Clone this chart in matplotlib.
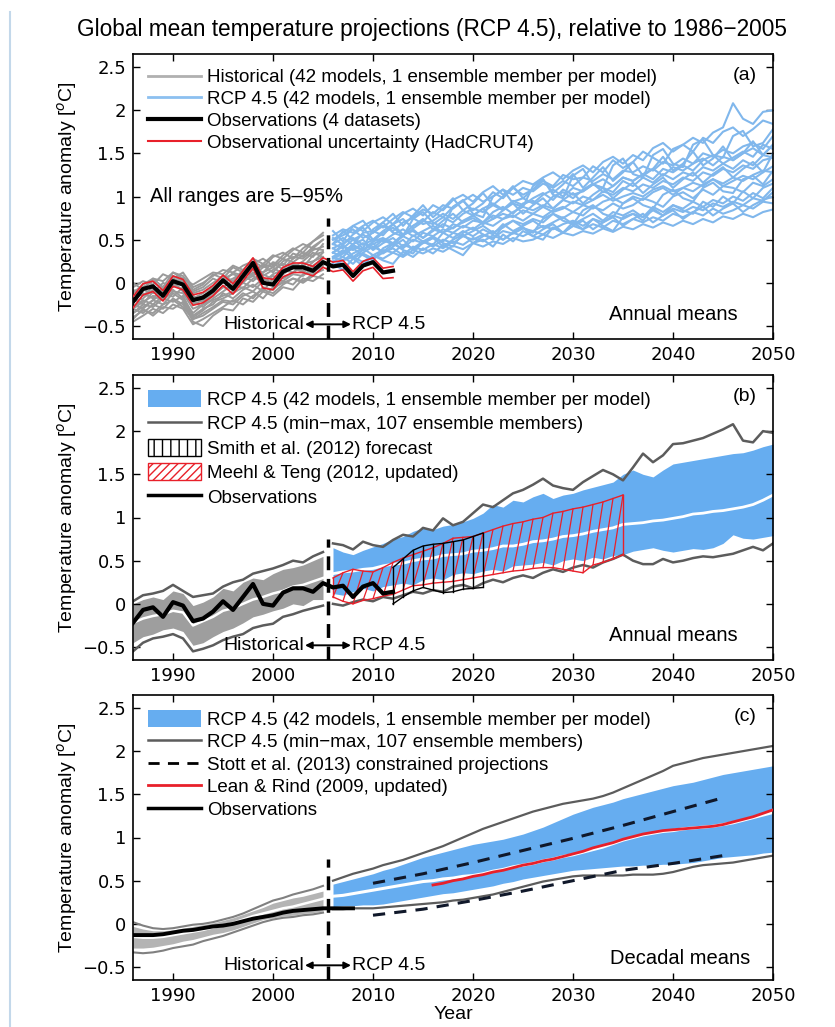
import numpy as np
import matplotlib
matplotlib.use('Agg')
import matplotlib.pyplot as plt
from matplotlib.lines import Line2D
from matplotlib.patches import Patch

plt.rcParams['font.family'] = ['Liberation Sans', 'DejaVu Sans']
plt.rcParams['mathtext.fontset'] = 'custom'
plt.rcParams['mathtext.rm'] = 'Liberation Sans'

# ---- years ----
yrs_hist = np.arange(1986, 2006)
yrs_rcp = np.arange(2006, 2051)
yrs_obs = np.arange(1986, 2013)
yrs_obs_dec = np.arange(1986, 2009)
yrs_smith = np.arange(2012, 2022)
yrs_meehl = np.arange(2006, 2036)
yrs_lean = np.arange(2016, 2051)
yrs_stott = [2010, 2015, 2020, 2025, 2030, 2035, 2040, 2045]

xticks = [1990, 2000, 2010, 2020, 2030, 2040, 2050]
yticks = [-0.5, 0, 0.5, 1, 1.5, 2, 2.5]
ytick_labels = ['\u22120.5', '0', '0.5', '1', '1.5', '2', '2.5']

# ---- panel (a): individual models ----
hist_models = [
    [-0.30, -0.22, -0.15, -0.20, -0.10, -0.12, -0.30, -0.25, -0.15, -0.05, -0.08, 0.02, 0.08, 0.00, 0.10, 0.15, 0.12, 0.22, 0.25, 0.30],
    [-0.10, -0.05, 0.02, -0.08, 0.05, 0.00, -0.18, -0.12, -0.05, 0.05, 0.10, 0.06, 0.15, 0.20, 0.12, 0.25, 0.30, 0.28, 0.38, 0.42],
    [-0.40, -0.32, -0.35, -0.25, -0.20, -0.28, -0.42, -0.38, -0.30, -0.22, -0.25, -0.15, -0.10, -0.18, -0.05, 0.00, 0.05, 0.02, 0.10, 0.15],
    [-0.20, -0.12, -0.18, -0.05, 0.02, -0.10, -0.25, -0.20, -0.08, 0.00, 0.05, 0.12, 0.08, 0.18, 0.22, 0.16, 0.28, 0.35, 0.30, 0.45],
    [-0.05, 0.02, -0.02, 0.10, 0.05, 0.12, -0.05, 0.00, 0.08, 0.15, 0.12, 0.20, 0.25, 0.18, 0.30, 0.35, 0.28, 0.40, 0.48, 0.55],
    [-0.35, -0.25, -0.28, -0.18, -0.22, -0.15, -0.38, -0.30, -0.25, -0.12, -0.18, -0.08, -0.02, -0.10, 0.05, 0.02, 0.10, 0.08, 0.18, 0.20],
    [-0.25, -0.30, -0.20, -0.12, -0.16, -0.05, -0.22, -0.28, -0.18, -0.10, -0.02, -0.06, 0.05, 0.10, 0.04, 0.15, 0.20, 0.14, 0.24, 0.35],
    [-0.15, -0.08, -0.12, 0.00, -0.05, 0.05, -0.12, -0.08, 0.00, 0.08, 0.02, 0.15, 0.10, 0.22, 0.18, 0.28, 0.24, 0.32, 0.40, 0.38],
    [-0.45, -0.38, -0.30, -0.35, -0.25, -0.30, -0.48, -0.42, -0.35, -0.28, -0.20, -0.25, -0.15, -0.08, -0.12, -0.02, 0.05, 0.00, 0.08, 0.05],
    [-0.08, -0.15, -0.05, -0.10, 0.08, 0.02, -0.10, -0.05, 0.05, 0.00, 0.12, 0.08, 0.18, 0.12, 0.24, 0.20, 0.34, 0.30, 0.42, 0.50],
    [-0.28, -0.20, -0.25, -0.15, -0.08, -0.18, -0.35, -0.25, -0.20, -0.15, -0.10, 0.00, -0.05, 0.05, 0.00, 0.10, 0.18, 0.12, 0.20, 0.28],
    [-0.18, -0.25, -0.10, -0.15, -0.02, -0.08, -0.20, -0.15, -0.10, 0.02, -0.04, 0.08, 0.02, 0.12, 0.18, 0.10, 0.22, 0.18, 0.32, 0.36],
    [-0.35, -0.28, -0.20, -0.25, -0.12, -0.20, -0.40, -0.32, -0.22, -0.18, -0.12, -0.05, -0.10, 0.02, 0.08, 0.05, 0.12, 0.20, 0.15, 0.25],
    [-0.12, -0.02, 0.05, -0.05, 0.12, 0.08, -0.08, -0.02, 0.10, 0.05, 0.18, 0.12, 0.22, 0.28, 0.20, 0.32, 0.40, 0.35, 0.48, 0.58],
    [-0.42, -0.30, -0.38, -0.28, -0.30, -0.22, -0.45, -0.50, -0.38, -0.30, -0.32, -0.18, -0.22, -0.10, -0.15, -0.05, -0.08, 0.05, 0.02, 0.10],
    [-0.22, -0.18, -0.08, -0.12, -0.02, 0.02, -0.15, -0.22, -0.12, -0.05, 0.02, 0.00, 0.12, 0.08, 0.15, 0.22, 0.18, 0.25, 0.35, 0.30],
    [0.00, -0.08, 0.05, 0.02, 0.12, 0.05, -0.02, 0.05, 0.12, 0.10, 0.20, 0.15, 0.28, 0.22, 0.32, 0.28, 0.38, 0.45, 0.40, 0.50],
    [-0.30, -0.35, -0.25, -0.30, -0.18, -0.25, -0.42, -0.35, -0.28, -0.20, -0.22, -0.12, -0.18, -0.05, -0.08, 0.02, -0.02, 0.10, 0.12, 0.20],
]

rcp_models = [
    [0.45, 0.52, 0.44, 0.58, 0.60, 0.55, 0.68, 0.74, 0.63, 0.71, 0.82, 0.76, 0.88, 0.95, 0.84,
     0.92, 1.05, 0.98, 1.10, 1.02, 1.08, 1.18, 1.12, 1.25, 1.20, 1.22, 1.35, 1.28, 1.42, 1.33,
     1.40, 1.52, 1.45, 1.38, 1.55, 1.60, 1.52, 1.68, 1.62, 1.75, 1.80, 1.70, 1.78, 1.88, 1.84],
    [0.35, 0.30, 0.42, 0.38, 0.45, 0.50, 0.44, 0.55, 0.62, 0.52, 0.60, 0.68, 0.63, 0.72, 0.78,
     0.70, 0.82, 0.88, 0.80, 0.92, 0.95, 0.88, 1.00, 1.05, 0.98, 1.08, 1.15, 1.05, 1.12, 1.22,
     1.18, 1.26, 1.20, 1.32, 1.28, 1.36, 1.30, 1.42, 1.48, 1.38, 1.45, 1.52, 1.46, 1.60, 1.55],
    [0.30, 0.38, 0.28, 0.35, 0.42, 0.36, 0.45, 0.40, 0.50, 0.46, 0.52, 0.48, 0.58, 0.54, 0.60,
     0.66, 0.58, 0.64, 0.72, 0.68, 0.74, 0.70, 0.80, 0.75, 0.82, 0.78, 0.88, 0.84, 0.92, 0.86,
     0.90, 0.98, 0.94, 0.88, 1.00, 1.05, 0.98, 1.08, 1.02, 1.12, 1.10, 1.05, 1.16, 1.12, 1.20],
    [0.50, 0.55, 0.62, 0.52, 0.58, 0.66, 0.60, 0.70, 0.75, 0.68, 0.72, 0.80, 0.74, 0.84, 0.78,
     0.86, 0.92, 0.85, 0.95, 0.90, 0.98, 1.04, 0.96, 1.08, 1.02, 1.06, 1.14, 1.10, 1.05, 1.18,
     1.12, 1.22, 1.16, 1.26, 1.20, 1.28, 1.24, 1.34, 1.30, 1.38, 1.32, 1.42, 1.36, 1.48, 1.45],
    [0.25, 0.30, 0.22, 0.34, 0.28, 0.35, 0.40, 0.32, 0.42, 0.38, 0.45, 0.40, 0.48, 0.44, 0.52,
     0.48, 0.55, 0.50, 0.58, 0.54, 0.60, 0.56, 0.64, 0.58, 0.66, 0.62, 0.68, 0.64, 0.72, 0.68,
     0.74, 0.70, 0.76, 0.72, 0.80, 0.76, 0.82, 0.78, 0.86, 0.80, 0.84, 0.90, 0.86, 0.94, 0.92],
    [0.40, 0.46, 0.52, 0.44, 0.50, 0.48, 0.56, 0.62, 0.54, 0.60, 0.66, 0.58, 0.64, 0.70, 0.75,
     0.68, 0.74, 0.80, 0.76, 0.84, 0.80, 0.88, 0.82, 0.86, 0.94, 0.90, 0.96, 1.02, 0.95, 1.00,
     1.04, 1.00, 1.08, 1.12, 1.06, 1.10, 1.16, 1.12, 1.20, 1.15, 1.22, 1.18, 1.25, 1.30, 1.28],
    [0.55, 0.62, 0.58, 0.66, 0.72, 0.64, 0.74, 0.82, 0.76, 0.85, 0.80, 0.90, 0.86, 0.95, 1.02,
     0.94, 1.00, 1.08, 1.02, 1.10, 1.06, 1.15, 1.10, 1.18, 1.12, 1.22, 1.18, 1.26, 1.20, 1.30,
     1.28, 1.35, 1.30, 1.40, 1.36, 1.44, 1.38, 1.50, 1.46, 1.54, 1.50, 1.58, 1.62, 1.55, 1.70],
    [0.30, 0.26, 0.34, 0.40, 0.32, 0.38, 0.35, 0.44, 0.40, 0.48, 0.42, 0.50, 0.46, 0.54, 0.50,
     0.56, 0.52, 0.60, 0.57, 0.63, 0.60, 0.66, 0.62, 0.68, 0.72, 0.66, 0.74, 0.70, 0.78, 0.74,
     0.80, 0.76, 0.84, 0.78, 0.86, 0.82, 0.88, 0.84, 0.92, 0.88, 0.94, 0.90, 0.98, 0.95, 1.05],
    [0.45, 0.40, 0.50, 0.56, 0.48, 0.58, 0.64, 0.55, 0.66, 0.72, 0.68, 0.76, 0.70, 0.80, 0.86,
     0.82, 0.90, 0.84, 0.94, 0.98, 0.92, 1.02, 1.08, 1.00, 1.10, 1.06, 1.14, 1.20, 1.12, 1.22,
     1.18, 1.26, 1.32, 1.24, 1.34, 1.30, 1.38, 1.44, 1.36, 1.46, 1.42, 1.50, 1.56, 1.48, 1.60],
    [0.35, 0.42, 0.38, 0.46, 0.40, 0.50, 0.45, 0.54, 0.48, 0.58, 0.54, 0.62, 0.58, 0.66, 0.62,
     0.70, 0.66, 0.74, 0.78, 0.72, 0.80, 0.76, 0.84, 0.88, 0.82, 0.90, 0.86, 0.94, 0.98, 0.92,
     1.00, 0.96, 1.05, 1.10, 1.02, 1.10, 1.06, 1.14, 1.20, 1.12, 1.18, 1.24, 1.20, 1.28, 1.35],
    [0.20, 0.26, 0.30, 0.24, 0.32, 0.28, 0.35, 0.30, 0.38, 0.34, 0.40, 0.36, 0.43, 0.39, 0.46,
     0.42, 0.48, 0.45, 0.52, 0.48, 0.50, 0.56, 0.52, 0.58, 0.55, 0.60, 0.57, 0.63, 0.59, 0.65,
     0.62, 0.68, 0.64, 0.70, 0.66, 0.72, 0.68, 0.74, 0.70, 0.77, 0.74, 0.80, 0.76, 0.82, 0.85],
    [0.50, 0.58, 0.66, 0.60, 0.70, 0.76, 0.68, 0.80, 0.86, 0.78, 0.90, 0.84, 0.96, 1.02, 0.94,
     1.05, 1.12, 1.02, 1.10, 1.18, 1.14, 1.22, 1.28, 1.20, 1.30, 1.36, 1.28, 1.40, 1.46, 1.38,
     1.48, 1.42, 1.56, 1.62, 1.52, 1.60, 1.68, 1.62, 1.74, 1.80, 2.08, 1.90, 1.84, 1.98, 2.00],
    [0.40, 0.34, 0.45, 0.50, 0.38, 0.46, 0.52, 0.42, 0.55, 0.48, 0.44, 0.58, 0.52, 0.60, 0.54,
     0.62, 0.56, 0.68, 0.60, 0.66, 0.72, 0.64, 0.70, 0.76, 0.68, 0.74, 0.80, 0.72, 0.82, 0.78,
     0.84, 0.76, 0.88, 0.82, 0.90, 0.86, 0.94, 0.88, 0.96, 0.92, 1.00, 0.95, 1.04, 0.98, 1.10],
    [0.30, 0.36, 0.44, 0.38, 0.48, 0.52, 0.46, 0.56, 0.60, 0.52, 0.62, 0.58, 0.68, 0.64, 0.72,
     0.70, 0.78, 0.74, 0.82, 0.88, 0.84, 0.90, 0.86, 0.96, 0.92, 1.00, 0.96, 1.06, 1.02, 1.10,
     1.06, 1.14, 1.10, 1.18, 1.14, 1.22, 1.18, 1.28, 1.24, 1.32, 1.28, 1.36, 1.32, 1.42, 1.45],
    [0.60, 0.48, 0.66, 0.72, 0.58, 0.70, 0.80, 0.66, 0.78, 0.90, 0.76, 0.86, 0.98, 0.84, 0.92,
     1.04, 0.90, 1.00, 1.12, 0.98, 1.08, 1.20, 1.04, 1.14, 1.26, 1.10, 1.22, 1.34, 1.18, 1.28,
     1.40, 1.24, 1.32, 1.46, 1.30, 1.38, 1.52, 1.36, 1.44, 1.58, 1.42, 1.50, 1.64, 1.48, 1.60],
    [0.22, 0.15, 0.28, 0.20, 0.32, 0.26, 0.22, 0.36, 0.30, 0.40, 0.34, 0.44, 0.38, 0.32, 0.46,
     0.50, 0.42, 0.56, 0.48, 0.60, 0.54, 0.50, 0.64, 0.58, 0.70, 0.62, 0.74, 0.66, 0.60, 0.76,
     0.80, 0.72, 0.86, 0.78, 0.90, 0.84, 0.80, 0.94, 0.88, 1.00, 0.92, 1.06, 0.98, 1.10, 1.15],
    [0.45, 0.60, 0.50, 0.40, 0.62, 0.70, 0.58, 0.54, 0.74, 0.82, 0.70, 0.64, 0.88, 0.96, 0.80,
     0.76, 1.00, 1.08, 0.92, 0.88, 1.12, 1.20, 1.02, 0.98, 1.24, 1.32, 1.14, 1.10, 1.36, 1.44,
     1.26, 1.22, 1.48, 1.55, 1.38, 1.34, 1.60, 1.66, 1.48, 1.45, 1.70, 1.76, 1.58, 1.62, 1.78],
    [0.35, 0.44, 0.30, 0.38, 0.46, 0.34, 0.42, 0.50, 0.38, 0.46, 0.52, 0.42, 0.50, 0.56, 0.46,
     0.54, 0.60, 0.50, 0.58, 0.64, 0.54, 0.62, 0.68, 0.58, 0.66, 0.72, 0.62, 0.70, 0.76, 0.66,
     0.74, 0.80, 0.70, 0.78, 0.84, 0.74, 0.82, 0.88, 0.78, 0.86, 0.92, 0.82, 0.90, 0.96, 1.00],
    [0.52, 0.44, 0.56, 0.64, 0.50, 0.60, 0.68, 0.56, 0.66, 0.74, 0.62, 0.72, 0.80, 0.70, 0.78,
     0.86, 0.74, 0.84, 0.92, 0.80, 0.90, 0.98, 0.86, 0.96, 1.04, 0.92, 1.02, 1.10, 0.98, 1.08,
     1.16, 1.04, 1.14, 1.22, 1.10, 1.20, 1.28, 1.16, 1.26, 1.34, 1.22, 1.32, 1.40, 1.28, 1.50],
    [0.28, 0.34, 0.40, 0.32, 0.26, 0.40, 0.46, 0.38, 0.34, 0.48, 0.54, 0.46, 0.42, 0.58, 0.64,
     0.56, 0.50, 0.66, 0.72, 0.64, 0.58, 0.74, 0.80, 0.72, 0.68, 0.84, 0.90, 0.80, 0.76, 0.92,
     0.98, 0.90, 0.86, 1.02, 1.08, 0.98, 0.94, 1.10, 1.16, 1.06, 1.04, 1.20, 1.24, 1.14, 1.30],
]

# observations (annual) and HadCRUT4 uncertainty
obs = [-0.22, -0.07, -0.04, -0.15, 0.02, -0.02, -0.20, -0.17, -0.09, 0.03, -0.07, 0.08, 0.23, 0.00,
       -0.02, 0.13, 0.18, 0.18, 0.14, 0.24, 0.19, 0.21, 0.08, 0.20, 0.24, 0.12, 0.14]
obs_hi = [-0.16, -0.01, 0.02, -0.09, 0.08, 0.04, -0.14, -0.11, -0.03, 0.09, -0.01, 0.14, 0.29, 0.06,
          0.04, 0.18, 0.23, 0.23, 0.19, 0.29, 0.24, 0.26, 0.13, 0.25, 0.29, 0.17, 0.19]
obs_lo = [-0.29, -0.14, -0.10, -0.21, -0.04, -0.08, -0.26, -0.23, -0.15, -0.03, -0.13, 0.02, 0.17, -0.06,
          -0.08, 0.07, 0.12, 0.12, 0.08, 0.18, 0.13, 0.15, 0.02, 0.14, 0.18, 0.05, 0.06]

# ---- panel (b): annual ranges ----
hist_p95 = [0.00, 0.05, 0.08, 0.05, 0.15, 0.12, -0.02, 0.02, 0.08, 0.18, 0.15, 0.25, 0.30, 0.28, 0.35, 0.40, 0.42, 0.45, 0.50, 0.55]
hist_p5 = [-0.45, -0.38, -0.35, -0.30, -0.28, -0.32, -0.48, -0.45, -0.38, -0.32, -0.28, -0.22, -0.15, -0.12, -0.08, -0.05, 0.00, -0.02, 0.05, 0.05]
hist_max = [0.03, 0.10, 0.12, 0.15, 0.22, 0.15, 0.08, 0.10, 0.12, 0.20, 0.25, 0.28, 0.35, 0.38, 0.41, 0.45, 0.50, 0.48, 0.55, 0.60]
hist_min = [-0.55, -0.45, -0.40, -0.38, -0.35, -0.40, -0.55, -0.52, -0.48, -0.42, -0.38, -0.35, -0.28, -0.25, -0.23, -0.15, -0.12, -0.08, -0.05, -0.02]
hist_med = [-0.22, -0.17, -0.14, -0.12, -0.08, -0.10, -0.25, -0.20, -0.15, -0.08, -0.05, 0.00, 0.05, 0.08, 0.12, 0.15, 0.20, 0.22, 0.26, 0.30]

rcp_p95 = [0.65, 0.60, 0.57, 0.62, 0.66, 0.70, 0.75, 0.78, 0.84, 0.88, 0.86, 0.90, 0.92, 0.95, 0.99,
           1.05, 1.15, 1.12, 1.20, 1.18, 1.24, 1.28, 1.22, 1.26, 1.28, 1.32, 1.35, 1.38, 1.41, 1.50,
           1.55, 1.50, 1.47, 1.55, 1.62, 1.64, 1.66, 1.68, 1.70, 1.72, 1.74, 1.75, 1.78, 1.82, 1.85]
rcp_p5 = [0.12, 0.10, 0.14, 0.18, 0.15, 0.20, 0.22, 0.24, 0.22, 0.28, 0.30, 0.28, 0.34, 0.36, 0.35,
          0.38, 0.40, 0.38, 0.44, 0.45, 0.46, 0.48, 0.45, 0.50, 0.52, 0.50, 0.54, 0.52, 0.56, 0.57,
          0.61, 0.63, 0.65, 0.62, 0.60, 0.62, 0.64, 0.63, 0.65, 0.70, 0.80, 0.76, 0.75, 0.77, 0.79]
rcp_max = [0.70, 0.68, 0.63, 0.72, 0.68, 0.66, 0.74, 0.80, 0.78, 0.88, 0.85, 0.99, 0.91, 0.95, 1.05,
           1.15, 1.12, 1.20, 1.28, 1.32, 1.38, 1.45, 1.37, 1.34, 1.32, 1.41, 1.48, 1.55, 1.50, 1.43,
           1.58, 1.74, 1.64, 1.72, 1.85, 1.86, 1.89, 1.92, 1.97, 2.02, 2.08, 1.89, 1.87, 2.00, 1.98]
rcp_min = [0.00, -0.02, 0.02, 0.05, 0.03, 0.08, 0.06, 0.10, 0.14, 0.12, 0.16, 0.14, 0.20, 0.22, 0.18,
           0.24, 0.28, 0.25, 0.30, 0.33, 0.30, 0.36, 0.40, 0.37, 0.42, 0.45, 0.42, 0.48, 0.52, 0.57,
           0.50, 0.46, 0.46, 0.52, 0.48, 0.50, 0.53, 0.55, 0.54, 0.56, 0.58, 0.62, 0.66, 0.62, 0.70]
rcp_med = [0.35, 0.37, 0.38, 0.40, 0.41, 0.44, 0.46, 0.47, 0.50, 0.52, 0.53, 0.56, 0.57, 0.58, 0.61,
           0.62, 0.64, 0.67, 0.67, 0.69, 0.72, 0.73, 0.75, 0.78, 0.79, 0.81, 0.84, 0.86, 0.88, 0.92,
           0.93, 0.94, 0.96, 0.97, 0.99, 1.01, 1.04, 1.05, 1.07, 1.08, 1.10, 1.12, 1.15, 1.20, 1.26]

smith_hi = [0.42, 0.52, 0.62, 0.67, 0.69, 0.70, 0.72, 0.74, 0.78, 0.82]
smith_lo = [0.00, 0.08, 0.15, 0.19, 0.16, 0.13, 0.14, 0.17, 0.18, 0.19]

meehl_hi = [0.30, 0.36, 0.40, 0.38, 0.37, 0.42, 0.48, 0.53, 0.57, 0.61, 0.65, 0.70, 0.76, 0.77, 0.78,
            0.82, 0.86, 0.90, 0.93, 0.95, 0.98, 1.00, 1.05, 1.07, 1.10, 1.12, 1.15, 1.18, 1.22, 1.26]
meehl_lo = [0.08, 0.03, 0.00, 0.04, 0.06, 0.09, 0.11, 0.16, 0.21, 0.22, 0.24, 0.25, 0.26, 0.28, 0.30,
            0.32, 0.34, 0.36, 0.38, 0.39, 0.41, 0.42, 0.42, 0.40, 0.38, 0.36, 0.45, 0.48, 0.52, 0.57]

# ---- panel (c): decadal means ----
hist_c_max = [0.02, -0.02, -0.05, -0.06, -0.05, -0.03, -0.01, 0.00, 0.02, 0.05, 0.08, 0.12, 0.17, 0.22, 0.27, 0.30, 0.34, 0.37, 0.40, 0.44]
hist_c_p95 = [-0.03, -0.06, -0.08, -0.08, -0.07, -0.05, -0.03, -0.01, 0.01, 0.04, 0.07, 0.11, 0.15, 0.19, 0.24, 0.27, 0.30, 0.32, 0.35, 0.38]
hist_c_p5 = [-0.28, -0.28, -0.27, -0.25, -0.23, -0.20, -0.18, -0.15, -0.12, -0.10, -0.07, -0.03, 0.01, 0.05, 0.07, 0.09, 0.10, 0.12, 0.13, 0.15]
hist_c_min = [-0.33, -0.34, -0.33, -0.31, -0.28, -0.26, -0.24, -0.20, -0.17, -0.14, -0.10, -0.06, -0.02, 0.02, 0.05, 0.07, 0.08, 0.10, 0.11, 0.13]
hist_c_med = [-0.15, -0.16, -0.16, -0.15, -0.13, -0.11, -0.09, -0.07, -0.04, -0.02, 0.01, 0.05, 0.09, 0.12, 0.15, 0.18, 0.20, 0.23, 0.26, 0.29]
obs_dec = [-0.13, -0.13, -0.13, -0.12, -0.10, -0.08, -0.07, -0.05, -0.03, -0.02, 0.00, 0.03, 0.06, 0.08,
           0.10, 0.13, 0.15, 0.16, 0.17, 0.18, 0.18, 0.18, 0.18]

rcp_c_max = [0.50, 0.54, 0.58, 0.61, 0.64, 0.68, 0.71, 0.74, 0.78, 0.82, 0.86, 0.90, 0.95, 1.00, 1.05,
             1.10, 1.14, 1.18, 1.22, 1.26, 1.30, 1.33, 1.36, 1.39, 1.41, 1.43, 1.45, 1.48, 1.52, 1.57,
             1.62, 1.67, 1.72, 1.77, 1.83, 1.86, 1.89, 1.92, 1.94, 1.96, 1.98, 2.00, 2.02, 2.04, 2.06]
rcp_c_p95 = [0.46, 0.49, 0.52, 0.55, 0.58, 0.62, 0.65, 0.69, 0.73, 0.77, 0.80, 0.83, 0.86, 0.89, 0.92,
             0.94, 0.96, 0.98, 1.01, 1.04, 1.08, 1.12, 1.17, 1.22, 1.27, 1.31, 1.35, 1.38, 1.41, 1.45,
             1.48, 1.51, 1.54, 1.57, 1.60, 1.62, 1.64, 1.67, 1.70, 1.73, 1.75, 1.77, 1.79, 1.81, 1.83]
rcp_c_p5 = [0.20, 0.21, 0.21, 0.22, 0.22, 0.23, 0.25, 0.27, 0.29, 0.31, 0.33, 0.35, 0.36, 0.38, 0.40,
            0.42, 0.44, 0.47, 0.49, 0.52, 0.54, 0.56, 0.58, 0.60, 0.62, 0.63, 0.64, 0.65, 0.66, 0.67,
            0.67, 0.68, 0.68, 0.69, 0.69, 0.70, 0.71, 0.73, 0.75, 0.77, 0.78, 0.79, 0.80, 0.82, 0.83]
rcp_c_min = [0.17, 0.17, 0.18, 0.18, 0.18, 0.19, 0.20, 0.21, 0.22, 0.23, 0.24, 0.25, 0.27, 0.28, 0.30,
             0.32, 0.34, 0.37, 0.40, 0.43, 0.46, 0.49, 0.51, 0.53, 0.55, 0.56, 0.56, 0.56, 0.56, 0.56,
             0.57, 0.57, 0.57, 0.58, 0.60, 0.63, 0.66, 0.68, 0.69, 0.70, 0.71, 0.73, 0.75, 0.77, 0.79]
rcp_c_med = [0.32, 0.33, 0.35, 0.37, 0.39, 0.41, 0.43, 0.45, 0.47, 0.49, 0.50, 0.52, 0.53, 0.55, 0.56,
             0.58, 0.61, 0.63, 0.66, 0.68, 0.70, 0.73, 0.75, 0.78, 0.80, 0.83, 0.86, 0.89, 0.93, 0.97,
             1.00, 1.03, 1.05, 1.07, 1.08, 1.10, 1.11, 1.12, 1.13, 1.15, 1.17, 1.20, 1.23, 1.26, 1.29]

stott_hi = [0.47, 0.58, 0.71, 0.85, 0.99, 1.14, 1.30, 1.46]
stott_lo = [0.10, 0.17, 0.27, 0.38, 0.50, 0.62, 0.70, 0.79]

lean_rind = [0.45, 0.47, 0.50, 0.52, 0.55, 0.57, 0.60, 0.62, 0.65, 0.68, 0.70, 0.73, 0.75, 0.78, 0.81,
             0.84, 0.88, 0.91, 0.94, 0.98, 1.01, 1.04, 1.06, 1.08, 1.09, 1.10, 1.11, 1.12, 1.13, 1.15,
             1.18, 1.21, 1.24, 1.28, 1.32]

# ---- colours ----
blue_fill = '#66adf0'
blue_line = '#80b7ec'
grey_line = '#9a9a9a'
minmax_col = '#5c5c5c'
red = '#e8202a'

fig = plt.figure(figsize=(8.35, 10.27), dpi=100)
W, H = 835.0, 1027.0
left, right = 133 / W, 773 / W
tops = [54, 375, 695]
ax_h = 285


def make_ax(top):
    ax = fig.add_axes([left, 1 - (top + ax_h) / H, right - left, ax_h / H])
    ax.set_xlim(1986, 2050)
    ax.set_ylim(-0.65, 2.65)
    ax.set_xticks(xticks)
    ax.set_yticks(yticks)
    ax.set_yticklabels(ytick_labels)
    ax.tick_params(direction='in', top=True, right=True, length=5, width=1, labelsize=13, pad=5)
    for lbl in ax.get_xticklabels() + ax.get_yticklabels():
        lbl.set_fontfamily('DejaVu Sans')
    for s in ax.spines.values():
        s.set_linewidth(1.2)
    ax.set_ylabel('Temperature anomaly [$^{o}$C]', fontsize=14)
    ax.yaxis.set_label_coords(-0.085, 0.5)
    return ax


def hist_rcp_marker(ax):
    ax.plot([2005.5, 2005.5], [-0.65, 0.75], color='k', lw=2.5, dashes=(4, 2.5), zorder=6)
    ax.text(2003.1, -0.48, 'Historical', ha='right', va='center', fontsize=14)
    ax.annotate('', xy=(2003.2, -0.48), xytext=(2007.8, -0.48),
                arrowprops=dict(arrowstyle='<|-|>', color='k', lw=1.4, mutation_scale=10,
                                shrinkA=0, shrinkB=0), zorder=7)
    ax.text(2007.9, -0.48, 'RCP 4.5', ha='left', va='center', fontsize=14)


# ---- (a) ----
ax = make_ax(tops[0])
for m in hist_models:
    ax.plot(yrs_hist, m, color=grey_line, lw=1.4, zorder=2)
for m in rcp_models:
    ax.plot(yrs_rcp, m, color=blue_line, lw=1.5, zorder=2)
ax.plot(yrs_obs, obs_hi, color=red, lw=1.2, zorder=4)
ax.plot(yrs_obs, obs_lo, color=red, lw=1.2, zorder=4)
ax.plot(yrs_obs, obs, color='k', lw=3, zorder=5)
hist_rcp_marker(ax)
ax.text(1987.7, 1.0, 'All ranges are 5\u201395%', fontsize=14.5, va='center')
ax.text(0.956, 0.925, '(a)', transform=ax.transAxes, fontsize=14, ha='center', va='center')
ax.text(0.945, 0.085, 'Annual means', transform=ax.transAxes, fontsize=14.5, ha='right', va='center')
handles = [Line2D([], [], color='#b0b0b0', lw=2),
           Line2D([], [], color='#8cc0f0', lw=2),
           Line2D([], [], color='k', lw=3),
           Line2D([], [], color=red, lw=1.5)]
labels = ['Historical (42 models, 1 ensemble member per model)',
          'RCP 4.5 (42 models, 1 ensemble member per model)',
          'Observations (4 datasets)',
          'Observational uncertainty (HadCRUT4)']
ax.legend(handles, labels, loc='upper left', frameon=False, fontsize=13.5, handlelength=2.8,
          handletextpad=0.35, labelspacing=0.25, borderaxespad=0.3, borderpad=0.5)

# ---- (b) ----
ax = make_ax(tops[1])
ax.fill_between(yrs_hist, hist_p5, hist_p95, color='#9e9e9e', lw=0, zorder=1)
ax.plot(yrs_hist, hist_med, color='white', lw=1.8, zorder=2)
ax.plot(yrs_hist, hist_max, color=minmax_col, lw=1.8, zorder=2)
ax.plot(yrs_hist, hist_min, color=minmax_col, lw=1.8, zorder=2)
ax.fill_between(yrs_rcp, rcp_p5, rcp_p95, color=blue_fill, lw=0, zorder=1)
ax.plot(yrs_rcp, rcp_med, color='white', lw=2, zorder=2)
ax.plot(yrs_rcp, rcp_max, color=minmax_col, lw=1.8, zorder=2)
ax.plot(yrs_rcp, rcp_min, color=minmax_col, lw=1.8, zorder=2)
# Meehl & Teng: red slanted hatching
ax.plot(yrs_meehl, meehl_hi, color=red, lw=1.0, zorder=3)
ax.plot(yrs_meehl, meehl_lo, color=red, lw=1.0, zorder=3)
ax.plot([yrs_meehl[0], yrs_meehl[0]], [meehl_lo[0], meehl_hi[0]], color=red, lw=1.0, zorder=3)
ax.plot([yrs_meehl[-1], yrs_meehl[-1]], [meehl_lo[-1], meehl_hi[-1]], color=red, lw=1.0, zorder=3)
for i in range(len(yrs_meehl) - 1):
    ax.plot([yrs_meehl[i], yrs_meehl[i + 1]], [meehl_lo[i], meehl_hi[i + 1]], color=red, lw=0.9, zorder=3)
# Smith et al.: black vertical hatching
ax.plot(yrs_smith, smith_hi, color='k', lw=1.0, zorder=4)
ax.plot(yrs_smith, smith_lo, color='k', lw=1.0, zorder=4)
for yr, lo, hi in zip(yrs_smith, smith_lo, smith_hi):
    ax.plot([yr, yr], [lo, hi], color='k', lw=1.0, zorder=4)
ax.plot(yrs_obs, obs, color='k', lw=3, zorder=5)
hist_rcp_marker(ax)
ax.text(0.956, 0.925, '(b)', transform=ax.transAxes, fontsize=14, ha='center', va='center')
ax.text(0.945, 0.085, 'Annual means', transform=ax.transAxes, fontsize=14.5, ha='right', va='center')
handles = [Patch(facecolor=blue_fill, edgecolor='none'),
           Line2D([], [], color=minmax_col, lw=1.8),
           Patch(facecolor='white', edgecolor='k', hatch='||'),
           Patch(facecolor='white', edgecolor=red, hatch='////'),
           Line2D([], [], color='k', lw=2.5)]
labels = ['RCP 4.5 (42 models, 1 ensemble member per model)',
          'RCP 4.5 (min\u2212max, 107 ensemble members)',
          'Smith et al. (2012) forecast',
          'Meehl & Teng (2012, updated)',
          'Observations']
ax.legend(handles, labels, loc='upper left', frameon=False, fontsize=13.5, handlelength=2.8,
          handleheight=1.0, handletextpad=0.35, labelspacing=0.3, borderaxespad=0.3, borderpad=0.5)

# ---- (c) ----
ax = make_ax(tops[2])
ax.fill_between(yrs_hist, hist_c_p5, hist_c_p95, color='#b4b4b4', lw=0, zorder=1)
ax.plot(yrs_hist, hist_c_med, color='white', lw=1.8, zorder=2)
ax.plot(yrs_hist, hist_c_max, color='#808080', lw=1.5, zorder=2)
ax.plot(yrs_hist, hist_c_min, color='#808080', lw=1.5, zorder=2)
ax.fill_between(yrs_rcp, rcp_c_p5, rcp_c_p95, color=blue_fill, lw=0, zorder=1)
ax.plot(yrs_rcp, rcp_c_med, color='white', lw=2.2, zorder=2)
ax.plot(yrs_rcp, rcp_c_max, color=minmax_col, lw=1.6, zorder=2)
ax.plot(yrs_rcp, rcp_c_min, color=minmax_col, lw=1.6, zorder=2)
ax.plot(yrs_stott, stott_hi, color='#10182a', lw=2.2, dashes=(4, 3), zorder=4)
ax.plot(yrs_stott, stott_lo, color='#10182a', lw=2.2, dashes=(4, 3), zorder=4)
ax.plot(yrs_lean, lean_rind, color=red, lw=2, zorder=4)
ax.plot(yrs_obs_dec, obs_dec, color='k', lw=2.8, zorder=5)
hist_rcp_marker(ax)
ax.text(0.956, 0.925, '(c)', transform=ax.transAxes, fontsize=14, ha='center', va='center')
ax.text(0.965, 0.075, 'Decadal means', transform=ax.transAxes, fontsize=14.5, ha='right', va='center')
handles = [Patch(facecolor=blue_fill, edgecolor='none'),
           Line2D([], [], color=minmax_col, lw=1.8),
           Line2D([], [], color='k', lw=2, dashes=(4, 3)),
           Line2D([], [], color=red, lw=2),
           Line2D([], [], color='k', lw=2.5)]
labels = ['RCP 4.5 (42 models, 1 ensemble member per model)',
          'RCP 4.5 (min\u2212max, 107 ensemble members)',
          'Stott et al. (2013) constrained projections',
          'Lean & Rind (2009, updated)',
          'Observations']
ax.legend(handles, labels, loc='upper left', frameon=False, fontsize=13.5, handlelength=2.8,
          handleheight=1.0, handletextpad=0.35, labelspacing=0.2, borderaxespad=0.3, borderpad=0.5)
ax.set_xlabel('Year', fontsize=14, labelpad=1)

fig.text(0.517, 0.971, 'Global mean temperature projections (RCP 4.5), relative to 1986\u22122005',
         ha='center', va='center', fontsize=16.3)
fig.add_artist(Line2D([10 / W, 10 / W], [0, 1 - 12 / H], color='#c3d8ea', lw=1.5))

fig.savefig('out.png', dpi=100)
